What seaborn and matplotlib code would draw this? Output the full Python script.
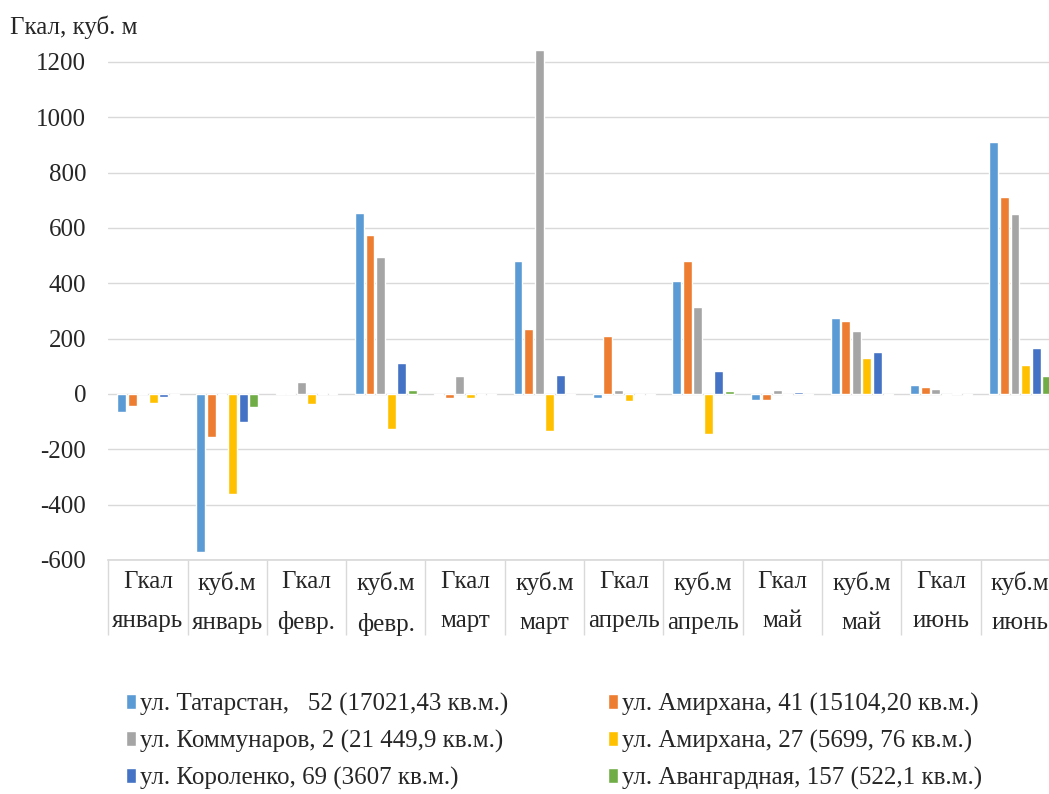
import matplotlib
matplotlib.use("Agg")
import matplotlib.pyplot as plt
import seaborn as sns
import pandas as pd
import numpy as np

categories = ["Гкал\nянварь", "куб.м\nянварь", "Гкал\nфевр.", "куб.м\nфевр.",
              "Гкал\nмарт", "куб.м\nмарт", "Гкал\nапрель", "куб.м\nапрель",
              "Гкал\nмай", "куб.м\nмай", "Гкал\nиюнь", "куб.м\nиюнь"]

series_names = ["ул. Татарстан,   52 (17021,43 кв.м.)",
                "ул. Амирхана, 41 (15104,20 кв.м.)",
                "ул. Коммунаров, 2 (21 449,9 кв.м.)",
                "ул. Амирхана, 27 (5699, 76 кв.м.)",
                "ул. Короленко, 69 (3607 кв.м.)",
                "ул. Авангардная, 157 (522,1 кв.м.)"]

tatarstan   = [-64, -572, 3, 653, -3, 480, -16, 408, -23, 274, 34, 910]
amirkhana41 = [-43, -156, 3, 574, -16, 235, 209, 480, -23, 264, 24, 711]
kommunarov  = [3, -3, 45, 494, 65, 1245, 14, 314, 14, 228, 18, 650]
amirkhana27 = [-32, -362, -36, -128, -15, -132, -25, -146, -5, 131, -4, 106]
korolenko   = [-12, -103, 3, 112, -5, 69, -5, 83, 6, 153, 5, 167]
avangard    = [-5, -47, 3, 15, -3, -5, -4, 11, -4, -5, -4, 64]

colors = ["#5B9BD5", "#ED7D31", "#A5A5A5", "#FFC000", "#4472C4", "#70AD47"]

all_vals = [tatarstan, amirkhana41, kommunarov, amirkhana27, korolenko, avangard]
rows = []
for name, vals in zip(series_names, all_vals):
    for c, v in zip(categories, vals):
        rows.append({"cat": c, "val": v, "series": name})
df = pd.DataFrame(rows)

sns.set_theme(style="white")
plt.rcParams['font.family'] = ['Liberation Serif', 'DejaVu Serif']
plt.rcParams['axes.unicode_minus'] = False

FS = 18
TXT = "#262626"

fig = plt.figure(figsize=(10.49, 7.94), dpi=100)
ax = fig.add_axes([108.3 / 1049, 1 - 560 / 794, 12 * 79.3 / 1049, (560 - 34.3) / 794])

sns.barplot(data=df, x="cat", y="val", hue="series", order=categories,
            hue_order=series_names, palette=colors, width=0.8, gap=0.16,
            ax=ax, saturation=1, legend=True)

ax.set_ylim(-600, 1300)
ax.set_xlim(-0.5, len(categories) - 0.5)
ax.set_yticks(np.arange(-600, 1201, 200))
ax.tick_params(axis="y", labelsize=FS, colors=TXT, length=0, pad=16)
ax.yaxis.grid(True, color="#D9D9D9", linewidth=1)
ax.set_axisbelow(True)
for s in ["top", "right", "left"]:
    ax.spines[s].set_visible(False)
ax.spines["bottom"].set_color("#D9D9D9")

ax.set_xticks(range(len(categories)))
ax.set_xticklabels(categories, fontsize=FS, color=TXT, linespacing=2.0)
ax.tick_params(axis="x", which="major", length=0, pad=8)
ax.set_xticks(np.arange(-0.5, len(categories), 1.0), minor=True)
ax.tick_params(axis="x", which="minor", bottom=True, length=54, width=1,
               color="#D9D9D9", direction="out")
ax.set_xlabel("")
ax.set_ylabel("")

fig.text(10 / 1049, 1 - 27 / 794, "Гкал, куб. м", fontsize=FS, color=TXT, va="center", ha="left")

handles, labels = ax.get_legend_handles_labels()
ax.get_legend().remove()
order = [0, 2, 4, 1, 3, 5]
fig.legend([handles[i] for i in order], [labels[i] for i in order],
           loc="upper left", bbox_to_anchor=(126 / 1049, 1 - 693 / 794), ncol=2, frameon=False,
           fontsize=FS, handlelength=0.4, handleheight=0.55, handletextpad=0.15,
           columnspacing=4.0, labelspacing=0.55, borderpad=0, borderaxespad=0,
           labelcolor=TXT)

fig.savefig("out.png", dpi=100)
